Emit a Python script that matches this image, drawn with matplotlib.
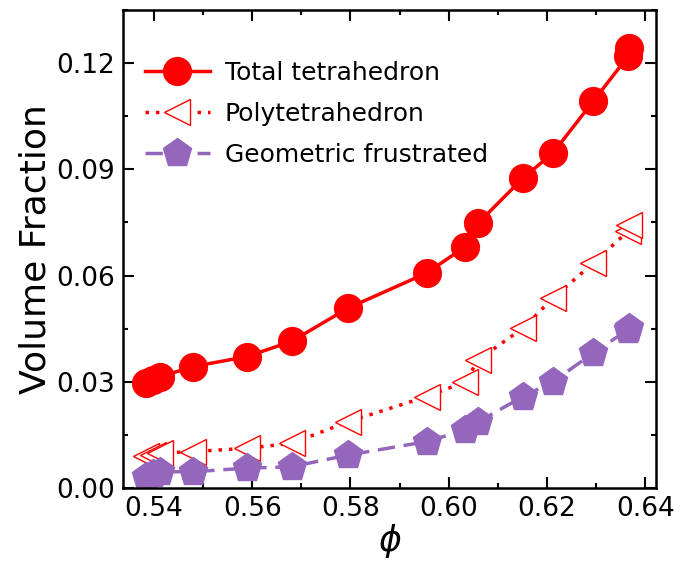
import numpy as np
import matplotlib
matplotlib.use('Agg')
import matplotlib.pyplot as plt
from matplotlib.ticker import MultipleLocator

# packing fraction
phi = [0.5384, 0.5398, 0.5412, 0.5480, 0.5589, 0.5680, 0.5795, 0.5955,
       0.6034, 0.6060, 0.6151, 0.6212, 0.6294, 0.6365, 0.6368]

total_tetra = [0.0296, 0.0305, 0.0314, 0.0343, 0.0371, 0.0414, 0.0508, 0.0607,
               0.0682, 0.0748, 0.0875, 0.0946, 0.1092, 0.1219, 0.1243]
poly_tetra = [0.0089, 0.0093, 0.0098, 0.0103, 0.0112, 0.0126, 0.0187, 0.0258,
              0.0300, 0.0362, 0.0451, 0.0536, 0.0635, 0.0725, 0.0743]
geo_frust = [0.0032, 0.0039, 0.0046, 0.0046, 0.0056, 0.0060, 0.0093, 0.0131,
             0.0164, 0.0187, 0.0258, 0.0300, 0.0381, 0.0447, 0.0452]

labels = ['Total tetrahedron', 'Polytetrahedron', 'Geometric frustrated']
red = '#ff0000'
purple = '#9467bd'

fig = plt.figure(figsize=(6.83, 5.65), dpi=100)
ax = fig.add_axes([0.1808, 0.1363, 0.7797, 0.846])

ax.plot(phi, total_tetra, '-', color=red, lw=2.5, marker='o', ms=20,
        label=labels[0])
ax.plot(phi, poly_tetra, color=red, lw=2.5, dashes=(1, 2), marker='<', ms=19,
        mfc='white', mec=red, mew=1.0, label=labels[1])
ax.plot(phi, geo_frust, color=purple, lw=2.5, dashes=(5, 2.5), marker='p',
        ms=21, label=labels[2])

ax.set_xlim(0.5338, 0.6422)
ax.set_ylim(0, 0.135)
ax.xaxis.set_minor_locator(MultipleLocator(0.01))
ax.yaxis.set_minor_locator(MultipleLocator(0.015))
ax.set_xticks(np.arange(0.54, 0.6401, 0.02))
ax.set_xticklabels(['%.2f' % v for v in np.arange(0.54, 0.6401, 0.02)])
ax.set_yticks(np.arange(0, 0.1201, 0.03))
ax.set_yticklabels(['%.2f' % v for v in np.arange(0, 0.1201, 0.03)])

ax.tick_params(which='both', direction='in', top=True, right=True,
               width=1.5, labelsize=19, pad=6)
ax.tick_params(which='major', length=8)
ax.tick_params(which='minor', length=3.6)
for s in ax.spines.values():
    s.set_linewidth(1.8)

ax.set_xlabel(r'$\phi$', fontsize=25, labelpad=0)
ax.set_ylabel('Volume Fraction', fontsize=26, labelpad=3)

ax.legend(loc='upper left', bbox_to_anchor=(0.04, 0.893), frameon=False,
          fontsize=18, numpoints=1, handlelength=2.6, handletextpad=0.6,
          labelspacing=0.68, borderpad=0, borderaxespad=0)

fig.savefig('out.png', dpi=100)
